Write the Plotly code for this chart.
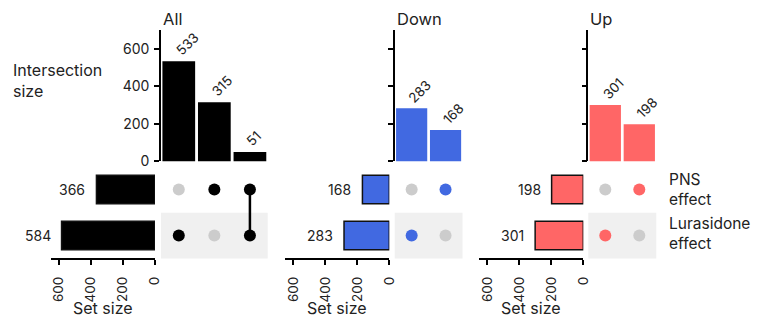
import plotly.graph_objects as go

W, H = 764, 327

panels = ["All", "Down", "Up"]
set_labels = ["PNS<br>effect", "Lurasidone<br>effect"]  # row 1 (top), row 0 (bottom)
colors = ["#000000", "#4169E1", "#FF6666"]

# intersection sizes per panel
inter_all = [533, 315, 51]
inter_down = [283, 168]
inter_up = [301, 198]
# set sizes per panel: [PNS, Lurasidone]
set_all = [366, 584]
set_down = [168, 283]
set_up = [198, 301]
# membership per intersection column: (PNS, Lurasidone)
memb_all = [(0, 1), (1, 0), (1, 1)]
memb_down = [(0, 1), (1, 0)]
memb_up = [(0, 1), (1, 0)]

inter_vals = [inter_all, inter_down, inter_up]
set_vals = [set_all, set_down, set_up]
membs = [memb_all, memb_down, memb_up]

# layout geometry (reference pixels)
mat_left = [160, 393.7, 587.3]
mat_right = [266.7, 461.5, 655.3]
set_zero = [154, 388.3, 582.3]
set_w = 104
inter_top, inter_bot = 30, 162
mat_top, mat_bot = 167, 259.3
row_split = 213.3

# effective drawing extent (compensates the page being photographed slightly reduced)
EW, EH = 756.0, 320.0


def fx(px):
    return px / EW


def fy(py):
    return 1 - py / EH


FONT = "Inter, Open Sans, sans-serif"
TXT = "#222"
fig = go.Figure()
layout = dict(
    width=W, height=H, margin=dict(l=0, r=0, t=0, b=0),
    paper_bgcolor="white", plot_bgcolor="rgba(0,0,0,0)",
    showlegend=False, font=dict(family=FONT, size=14, color=TXT),
)
annotations = []
shapes = []


def label(x, y, text, size=16, xanchor="left"):
    annotations.append(dict(x=fx(x), y=fy(y), xref="paper", yref="paper", text=text,
                            showarrow=False, xanchor=xanchor, yanchor="middle", align="left",
                            font=dict(size=size, color=TXT)))


ax = 0
for p in range(3):
    iv = inter_vals[p]
    sv = set_vals[p]
    mb = membs[p]
    col = colors[p]
    n = len(iv)
    cats = list(range(n))

    # ---- intersection bars
    ax += 1
    sx = "" if ax == 1 else str(ax)
    fig.add_trace(go.Bar(x=cats, y=iv, marker=dict(color=col, line=dict(width=0)),
                         xaxis="x" + sx, yaxis="y" + sx, hoverinfo="skip"))
    layout["xaxis" + sx] = dict(domain=[fx(mat_left[p]), fx(mat_right[p])], range=[-0.5, n - 0.5],
                                anchor="y" + sx, showgrid=False, zeroline=False, showline=False,
                                showticklabels=False, ticks="")
    layout["yaxis" + sx] = dict(domain=[fy(inter_bot), fy(inter_top)], range=[0, 700],
                                anchor="x" + sx, showgrid=False, zeroline=False, showline=True,
                                linecolor="black", linewidth=1.5, ticks="outside", ticklen=5,
                                tickwidth=1.5, tickcolor="black", tickvals=[0, 200, 400, 600],
                                showticklabels=(p == 0), ticklabelstandoff=2,
                                tickfont=dict(size=14, color=TXT))
    for i, v in enumerate(iv):
        annotations.append(dict(x=i, y=v, xref="x" + sx, yref="y" + sx, text=str(v),
                                textangle=-45, showarrow=False, xanchor="left", yanchor="bottom",
                                xshift=-9, yshift=0, font=dict(size=13.5, color=TXT)))
    label(mat_left[p], 19, panels[p], size=16.5)

    # ---- set size bars (horizontal, reversed)
    ax += 1
    sx = str(ax)
    fig.add_trace(go.Bar(x=sv, y=[1, 0], orientation="h", width=0.62,
                         marker=dict(color=col, line=dict(color="#111", width=1.5)),
                         xaxis="x" + sx, yaxis="y" + sx, hoverinfo="skip"))
    layout["xaxis" + sx] = dict(domain=[fx(set_zero[p] - set_w), fx(set_zero[p])], range=[650, 0],
                                anchor="y" + sx, showgrid=False, zeroline=False, showline=True,
                                linecolor="black", linewidth=1.5, ticks="outside", ticklen=5,
                                tickwidth=1.5, tickcolor="black", tickvals=[0, 200, 400, 600],
                                tickangle=-90, ticklabelstandoff=6,
                                tickfont=dict(size=13.5, color=TXT))
    layout["yaxis" + sx] = dict(domain=[fy(mat_bot), fy(mat_top)], range=[-0.5, 1.5],
                                anchor="x" + sx, showgrid=False, zeroline=False, showline=False,
                                showticklabels=False, ticks="")
    for r, v in zip([1, 0], sv):
        annotations.append(dict(x=v, y=r, xref="x" + sx, yref="y" + sx, text=str(v),
                                showarrow=False, xanchor="right", yanchor="middle", xshift=-9,
                                font=dict(size=14, color=TXT)))
    label(set_zero[p] - set_w / 2, 308.5, "Set size", size=16, xanchor="center")

    # ---- matrix
    ax += 1
    sx = str(ax)
    shapes.append(dict(type="rect", xref="paper", yref="paper",
                       x0=fx(mat_left[p]), x1=fx(mat_right[p]), y0=fy(mat_bot), y1=fy(row_split),
                       fillcolor="#F0F0F0", line=dict(width=0), layer="below"))
    for i, (a, b) in enumerate(mb):
        if a and b:
            fig.add_trace(go.Scatter(x=[i, i], y=[1, 0], mode="lines",
                                     line=dict(color=col, width=2.5),
                                     xaxis="x" + sx, yaxis="y" + sx, hoverinfo="skip"))
    xs, ys, cs = [], [], []
    for i, (a, b) in enumerate(mb):
        for r, m in [(1, a), (0, b)]:
            xs.append(i)
            ys.append(r)
            cs.append(col if m else "#CCCCCC")
    fig.add_trace(go.Scatter(x=xs, y=ys, mode="markers",
                             marker=dict(size=12, color=cs, line=dict(width=0)),
                             xaxis="x" + sx, yaxis="y" + sx, hoverinfo="skip"))
    layout["xaxis" + sx] = dict(domain=[fx(mat_left[p]), fx(mat_right[p])], range=[-0.5, n - 0.5],
                                anchor="y" + sx, showgrid=False, zeroline=False, showline=False,
                                showticklabels=False, ticks="")
    layout["yaxis" + sx] = dict(domain=[fy(mat_bot), fy(mat_top)], range=[-0.5, 1.5],
                                anchor="x" + sx, showgrid=False, zeroline=False, showline=False,
                                showticklabels=False, ticks="")

# set labels on the right
label(666, 190.5, set_labels[0], size=15.5)
label(666, 234, set_labels[1], size=15.5)

label(10, 81, "Intersection<br>size", size=16)

layout["annotations"] = annotations
layout["shapes"] = shapes
layout["bargap"] = 0.08
fig.update_layout(**layout)
fig.write_html("out.html")
